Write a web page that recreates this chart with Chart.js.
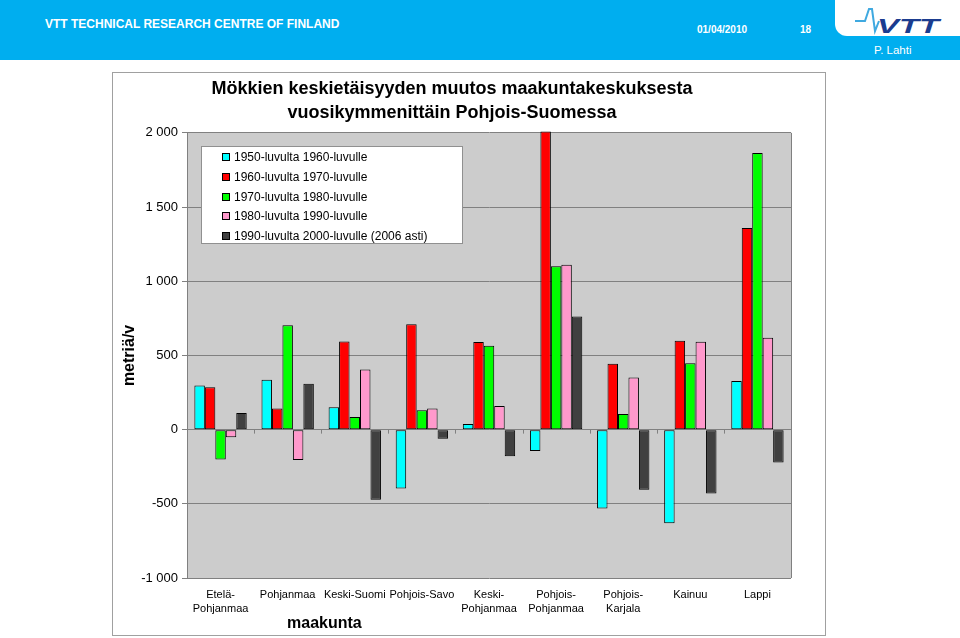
<!DOCTYPE html>
<html lang="fi">
<head>
<meta charset="utf-8">
<script src="https://cdn.jsdelivr.net/npm/chart.js@4.4.1/dist/chart.umd.min.js"></script>
<style>
  body { margin: 0; width: 960px; height: 638px; background: #fff; position: relative; overflow: hidden;
         font-family: Arial, "Liberation Sans", sans-serif; }
  .header { position: absolute; left: 0; top: 0; width: 960px; height: 60px; background: #00AEEF; }
  .org { position: absolute; left: 45px; top: 17px; color: #fff; font-weight: bold; font-size: 12px; }
  .date { position: absolute; left: 697px; top: 24px; color: #fff; font-weight: bold; font-size: 10px; }
  .page { position: absolute; left: 800px; top: 24px; color: #fff; font-weight: bold; font-size: 10px; }
  .tab { position: absolute; left: 835px; top: 0; width: 125px; height: 36px; background: #fff;
         border-bottom-left-radius: 12px; }
  .author { position: absolute; left: 874px; top: 44px; color: #fff; font-size: 11.5px; }
  .box { position: absolute; left: 112px; top: 72px; width: 714px; height: 564px; box-sizing: border-box;
         border: 1px solid #A0A0A0; }
  .box canvas { display: block; }
  .legend { position: absolute; left: 201px; top: 146px; width: 262px; height: 98px; box-sizing: border-box;
            background: #fff; border: 1px solid #909090; }
  .legend .row { position: absolute; left: 20px; height: 20px; line-height: 20px; font-size: 12px; color: #000;
                 white-space: nowrap; }
  .legend .mark { display: inline-block; width: 6px; height: 6px; border: 1px solid #000; margin-right: 4px;
                  vertical-align: 0px; }
  .xtitle { position: absolute; left: 287px; top: 614px; font-weight: bold; font-size: 16px; color: #000; }
</style>
</head>
<body>
<div class="header">
  <div class="org">VTT TECHNICAL RESEARCH CENTRE OF FINLAND</div>
  <div class="date">01/04/2010</div>
  <div class="page">18</div>
  <div class="tab">
    <svg width="125" height="36" viewBox="0 0 125 36">
      <polyline points="20,21 30,21 34,9 37,9 40,31 44,21" fill="none" stroke="#3FA9E0" stroke-width="2"/>
      <text x="42" y="33" font-family="Arial, sans-serif" font-weight="bold" font-style="italic" font-size="21"
            fill="#1B3C8F" textLength="62" lengthAdjust="spacingAndGlyphs">VTT</text>
    </svg>
  </div>
  <div class="author">P. Lahti</div>
</div>

<div class="box"><canvas id="chart" width="712" height="562"></canvas></div>
<div class="legend" id="legend"></div>
<div class="xtitle">maakunta</div>

<script>
const maakunnat = [
    ['Etelä-', 'Pohjanmaa'],
    'Pohjanmaa',
    'Keski-Suomi',
    'Pohjois-Savo',
    ['Keski-', 'Pohjanmaa'],
    ['Pohjois-', 'Pohjanmaa'],
    ['Pohjois-', 'Karjala'],
    'Kainuu',
    'Lappi'
];

const sarjat = [
    '1950-luvulta 1960-luvulle',
    '1960-luvulta 1970-luvulle',
    '1970-luvulta 1980-luvulle',
    '1980-luvulta 1990-luvulle',
    '1990-luvulta 2000-luvulle (2006 asti)'
];

const v1950_1960 = [298, 336, 150, -397, 38, -144, -532, -631, 327];
const v1960_1970 = [285, 143, 594, 711, 590, 2010, 444, 599, 1359];
const v1970_1980 = [-202, 704, 85, 130, 565, 1101, 105, 448, 1864];
const v1980_1990 = [-52, -204, 406, 143, 160, 1112, 352, 592, 619];
const v1990_2000 = [112, 309, -473, -61, -180, 762, -406, -431, -222];

const yTicks = [-1000, -500, 0, 500, 1000, 1500, 2000];

const varit = ['#00FFFF', '#FF0000', '#00FF00', '#FF99CC', '#404040'];
const arvot = [v1950_1960, v1960_1970, v1970_1980, v1980_1990, v1990_2000];

// selite html:nä kaavion sisälle
const legendDiv = document.getElementById('legend');
sarjat.forEach((nimi, i) => {
    legendDiv.innerHTML += `
        <div class="row" style="top:${i * 19.75}px">
            <span class="mark" style="background:${varit[i]}"></span>${nimi}
        </div>`;
});

function muotoile(v) {
    const s = Math.abs(v).toString().replace(/\B(?=(\d{3})+(?!\d))/g, ' ');
    return (v < 0 ? '-' : '') + s;
}

const taustaPlugin = {
    id: 'tausta',
    beforeDraw(chart) {
        const a = chart.chartArea;
        const ctx = chart.ctx;
        ctx.save();
        ctx.fillStyle = '#CCCCCC';
        ctx.fillRect(a.left, a.top, a.right - a.left, a.bottom - a.top);
        ctx.restore();
    },
    afterDraw(chart) {
        const a = chart.chartArea;
        const ctx = chart.ctx;
        const y0 = chart.scales.y.getPixelForValue(0);
        const n = maakunnat.length;
        ctx.save();
        ctx.strokeStyle = '#808080';
        ctx.lineWidth = 1;
        ctx.beginPath();
        ctx.moveTo(Math.round(a.right) + 0.5, a.top);
        ctx.lineTo(Math.round(a.right) + 0.5, a.bottom);
        for (let i = 0; i <= n; i++) {
            const x = Math.round(a.left + i * (a.right - a.left) / n) + 0.5;
            ctx.moveTo(x, y0);
            ctx.lineTo(x, y0 + 4);
        }
        ctx.stroke();
        ctx.restore();
    }
};

new Chart(document.getElementById('chart'), {
    type: 'bar',
    data: {
        labels: maakunnat,
        datasets: sarjat.map((nimi, i) => ({
            label: nimi,
            data: arvot[i],
            backgroundColor: varit[i],
            borderColor: '#000',
            borderWidth: 1,
            borderSkipped: false,
            clip: false
        }))
    },
    options: {
        responsive: false,
        animation: false,
        layout: { padding: { left: 0, right: 34, top: 0, bottom: 0 } },
        datasets: { bar: { categoryPercentage: 0.78, barPercentage: 1.0 } },
        plugins: {
            legend: { display: false },
            tooltip: { enabled: false },
            title: {
                display: true,
                text: ['Mökkien keskietäisyyden muutos maakuntakeskuksesta',
                       'vuosikymmenittäin Pohjois-Suomessa'],
                color: '#000',
                font: { family: 'Arial', size: 18, weight: 'bold', lineHeight: 1.33 },
                padding: { top: 4, bottom: 8 }
            }
        },
        scales: {
            x: {
                grid: { display: false, drawTicks: false },
                border: { display: false },
                ticks: {
                    color: '#000',
                    font: { family: 'Arial', size: 11, lineHeight: 1.27 },
                    padding: 10,
                    maxRotation: 0,
                    autoSkip: false
                },
                afterFit(axis) { axis.height = 57; }
            },
            y: {
                min: -1000,
                max: 2000,
                afterBuildTicks(axis) { axis.ticks = yTicks.map(v => ({ value: v })); },
                grid: { color: '#808080', tickLength: 5 },
                border: { color: '#808080' },
                ticks: {
                    color: '#000',
                    font: { family: 'Arial', size: 13 },
                    padding: 4,
                    callback: v => muotoile(v)
                },
                title: {
                    display: true,
                    text: 'metriä/v',
                    color: '#000',
                    font: { family: 'Arial', size: 16, weight: 'bold' },
                    padding: { top: 7, bottom: 0 }
                },
                afterFit(axis) { axis.width = 74; }
            }
        }
    },
    plugins: [taustaPlugin]
});
</script>
</body>
</html>
